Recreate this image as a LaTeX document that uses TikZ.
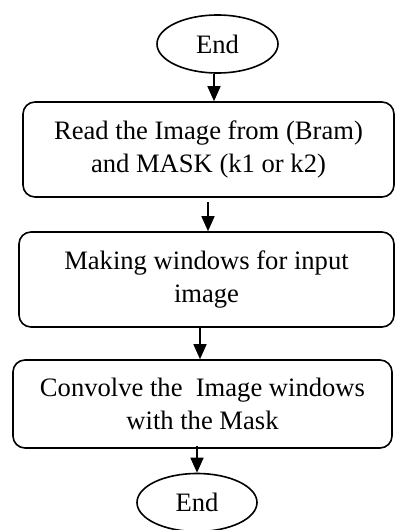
\documentclass[tikz,border=0pt]{standalone}
\usepackage{fontspec}
\setmainfont{Liberation Serif}
\usetikzlibrary{shapes.geometric,arrows.meta}
\begin{document}
\begin{tikzpicture}[x=0.5pt,y=-0.5pt,
  line width=0.8pt,
  procbox/.style={draw,rounded corners=6pt,align=center,inner sep=0pt,
    font=\fontsize{13.3pt}{16.2pt}\selectfont},
  term/.style={draw,ellipse,inner sep=0pt,font=\fontsize{13.3pt}{16pt}\selectfont},
  arr/.style={-{Triangle[length=7.5pt,width=6.5pt]}}]
\useasboundingbox (0,0) rectangle (395,530);
\node[term,minimum width=60.5pt,minimum height=29pt] (e1) at (217.5,44) {End};
\node[procbox,minimum width=185.5pt,minimum height=47.5pt] (b1) at (208.5,149.5)
  {Read the Image from (Bram)\\and MASK (k1 or k2)};
\node[procbox,minimum width=187.5pt,minimum height=47.5pt] (b2) at (206.5,279.5)
  {Making windows for input\\image};
\node[procbox,minimum width=189.5pt,minimum height=44pt] (b3) at (202.5,404)
  {Convolve the\ \ Image windows\\with the Mask};
\node[term,minimum width=60pt,minimum height=29pt] (e2) at (197,502.5) {End};
\coordinate (x1) at (214,0);
\coordinate (x2) at (208,0);
\coordinate (x3) at (200,0);
\draw[arr] (e1.south -| x1) -- (b1.north -| x1);
\draw[arr] ([yshift=-2pt]b1.south -| x2) -- (b2.north -| x2);
\draw[arr] (b2.south -| x3) -- (b3.north -| x3);
\draw[arr] ([yshift=1.5pt]b3.south -| e2.north) -- (e2.north);
\end{tikzpicture}
\end{document}
